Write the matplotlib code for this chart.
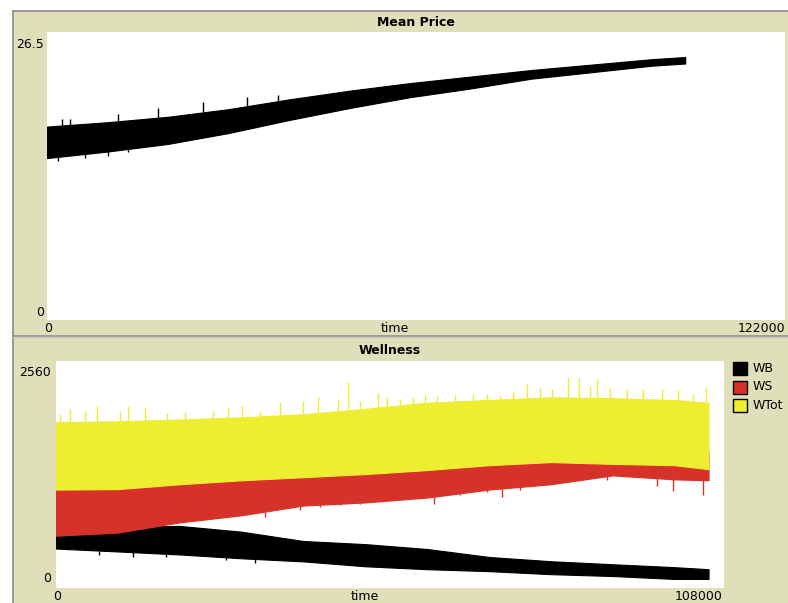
#!/usr/bin/env python
"""Mean Price / Wellness plots (NetLogo style), redrawn with matplotlib."""
import numpy as np
import matplotlib
matplotlib.use("Agg")
import matplotlib.pyplot as plt
from matplotlib.patches import Rectangle
from matplotlib.lines import Line2D

W, H = 788, 603
BEIGE = "#DFDFB9"
YEL = "#EDED31"
RED = "#D73229"

# ---- data (band envelopes) ----
t_pts = [0, 10000, 20000, 30000, 40000, 50000, 60000, 70000, 80000, 90000, 100000, 105500]

price_hi = [17.8, 18.2, 18.7, 19.4, 20.3, 21.1, 21.8, 22.4, 23.0, 23.5, 24.0, 24.2]
price_lo = [14.9, 15.5, 16.2, 17.2, 18.4, 19.5, 20.5, 21.3, 22.2, 22.8, 23.4, 23.6]

wtot_hi = [1870, 1880, 1900, 1925, 1960, 2020, 2090, 2120, 2150, 2140, 2120, 2090]
wtot_lo = [1110, 1115, 1170, 1215, 1250, 1285, 1330, 1385, 1420, 1400, 1385, 1340]
ws_hi = [1300, 1320, 1380, 1420, 1450, 1480, 1520, 1580, 1620, 1600, 1580, 1540]
ws_lo = [590, 625, 740, 820, 930, 965, 1020, 1110, 1170, 1270, 1225, 1215]
wb_hi = [640, 690, 700, 635, 530, 495, 440, 350, 302, 268, 235, 212]
wb_lo = [445, 412, 378, 335, 300, 245, 212, 190, 156, 135, 102, 102]

# isolated spikes seen along the band edges (time, value)
price_up_t = [2420, 3800, 11790, 18400, 25840, 33010, 38240]
price_up_v = [18.5, 18.5, 19.0, 19.5, 20.1, 20.5, 20.7]
price_dn_t = [1870, 6280, 10140, 13450]
price_dn_v = [14.6, 14.9, 15.1, 15.5]

wtot_spike_t = [650, 2260, 4690, 6580, 10350, 11640, 14390, 17900, 20860, 25390,
                27810, 30020, 32990, 36220, 39990, 42420, 45650, 47200, 49160, 52120,
                53470, 55620, 57780, 59670, 61560, 64520, 67480, 69640, 71800, 73950,
                76100, 78260, 80150, 82800, 84600, 86350, 87500, 89580, 92280, 94970,
                97940, 100620, 103060, 105100]
wtot_spike_v = [1965, 2021, 1999, 2055, 1999, 2055, 2033, 1969, 1980, 1999,
                2036, 2055, 1980, 2092, 2111, 2149, 2130, 2325, 2111, 2197,
                2149, 2130, 2149, 2179, 2167, 2179, 2186, 2186, 2167, 2205,
                2302, 2261, 2242, 2381, 2370, 2280, 2358, 2261, 2242, 2242,
                2242, 2231, 2186, 2268]
ws_spike_t = [33800, 36220, 39450, 42690, 45920, 49160, 55620, 61120, 65330, 69640,
              72070, 75030, 79340, 89040, 97120, 99710, 104670]
ws_spike_v = [801, 895, 876, 913, 932, 951, 988, 951, 1044, 1081,
              1025, 1101, 1157, 1213, 1145, 1089, 1044]
wb_dn_t = [7000, 12400, 17800, 27500, 32100]
wb_dn_v = [371, 350, 352, 314, 277]

legend_names = ["WB", "WS", "WTot"]
legend_colors = ["black", RED, YEL]


def box(x0, y0, x1, y1):
    return [x0 / W, 1 - y1 / H, (x1 - x0) / W, (y1 - y0) / H]


def ftext(x, y, s, **kw):
    kw.setdefault("fontsize", 9)
    fig.text(x / W, 1 - y / H, s, va="center", **kw)


fig = plt.figure(figsize=(W / 100, H / 100), dpi=100)
fig.patch.set_facecolor("white")

# panel backgrounds + frame lines
for y0, y1 in [(11, 335), (338, 603)]:
    fig.add_artist(Rectangle((13 / W, 1 - y1 / H), (W - 13) / W, (y1 - y0) / H, zorder=-10,
                             transform=fig.transFigure, facecolor=BEIGE, edgecolor="none"))
fig.add_artist(Line2D([13 / W, 13 / W], [0, 1 - 11 / H], color="#8a8a8a", lw=1.2))
fig.add_artist(Line2D([13 / W, 1], [1 - 11 / H, 1 - 11 / H], color="#8a8a8a", lw=1.2))
fig.add_artist(Line2D([13 / W, 1], [1 - 335.5 / H] * 2, color="#8a8a8a", lw=1.2))
fig.add_artist(Line2D([13 / W, 1], [1 - 337.5 / H] * 2, color="#c8c8c8", lw=1.0))

# ---- Mean Price ----
ax1 = fig.add_axes(box(47, 32, 785, 320))
ax1.fill_between(t_pts, price_lo, price_hi, color="black", lw=0.8, edgecolor="black")
ax1.vlines(price_up_t, np.interp(price_up_t, t_pts, price_hi), price_up_v, color="black", lw=1)
ax1.vlines(price_dn_t, price_dn_v, np.interp(price_dn_t, t_pts, price_lo), color="black", lw=1)
ax1.set_xlim(0, 122000); ax1.set_ylim(0, 26.5)
ax1.set_xticks([]); ax1.set_yticks([])
for s in ax1.spines.values():
    s.set_visible(False)

ftext(416, 22, "Mean Price", ha="center", fontweight="bold")
ftext(44, 45, "26.5", ha="right")
ftext(44, 313, "0", ha="right")
ftext(48, 328, "0", ha="center")
ftext(395, 328, "time", ha="center")
ftext(785, 328, "122000", ha="right")

# ---- Wellness ----
ax2 = fig.add_axes(box(56, 361, 724, 588))
ax2.fill_between(t_pts, wb_lo, wb_hi, color="black", lw=0.8, edgecolor="black")
ax2.vlines(wb_dn_t, wb_dn_v, np.interp(wb_dn_t, t_pts, wb_lo), color="black", lw=1)
ax2.fill_between(t_pts, ws_lo, ws_hi, color=RED, lw=0.8, edgecolor=RED)
ax2.vlines(ws_spike_t, ws_spike_v, np.interp(ws_spike_t, t_pts, ws_lo), color=RED, lw=1)
ax2.fill_between(t_pts, wtot_lo, wtot_hi, color=YEL, lw=0.8, edgecolor=YEL)
ax2.vlines(wtot_spike_t, np.interp(wtot_spike_t, t_pts, wtot_hi), wtot_spike_v, color=YEL, lw=1)
ax2.set_xlim(0, 108000); ax2.set_ylim(0, 2560)
ax2.set_xticks([]); ax2.set_yticks([])
for s in ax2.spines.values():
    s.set_visible(False)

ftext(390, 350, "Wellness", ha="center", fontweight="bold")
ftext(51, 372, "2560", ha="right")
ftext(51, 578, "0", ha="right")
ftext(57, 596, "0", ha="center")
ftext(365, 596, "time", ha="center")
ftext(723, 596, "108000", ha="right")

# legend
for i, (name, c) in enumerate(zip(legend_names, legend_colors)):
    yt = 362 + i * 18.5
    fig.add_artist(Rectangle((733 / W, 1 - (yt + 13) / H), 14 / W, 13 / H,
                             transform=fig.transFigure, facecolor=c, edgecolor="black", lw=1))
    ftext(753, yt + 6.5, name, ha="left")

fig.savefig("out.png", dpi=100)
